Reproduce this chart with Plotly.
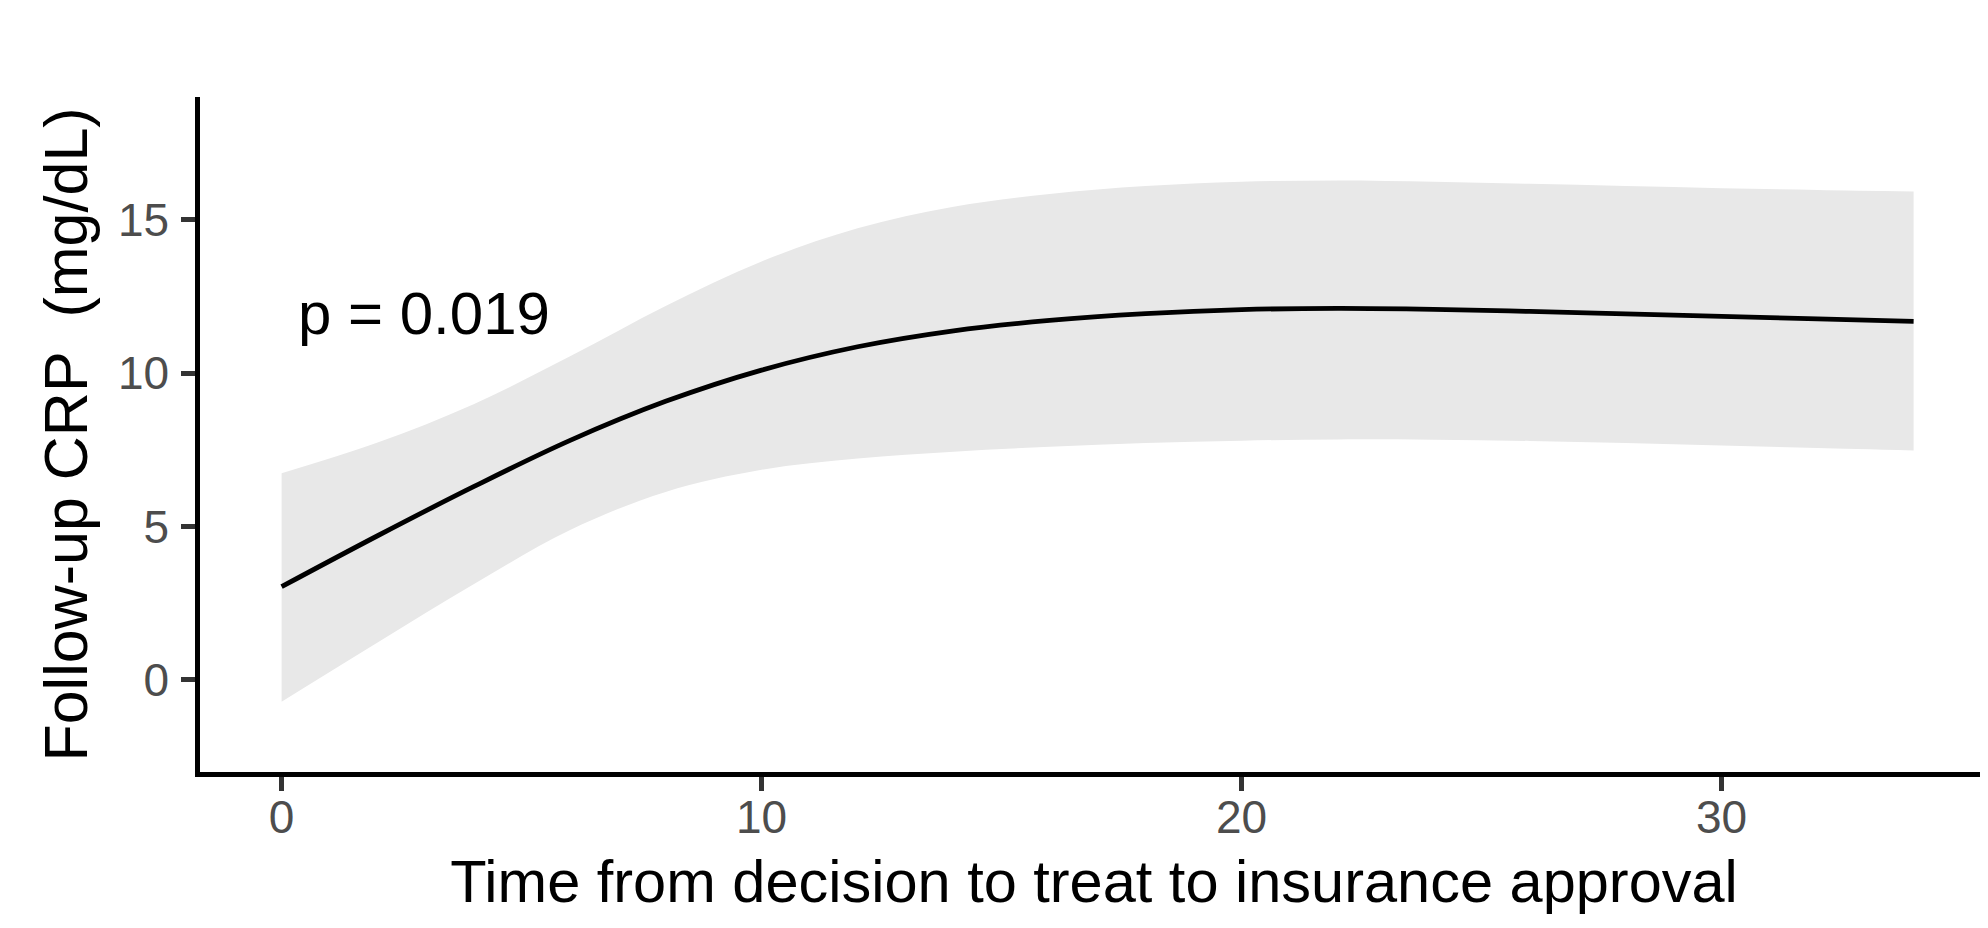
import plotly.graph_objects as go

# Values
time_x = [0, 2, 4, 6, 8, 10, 12, 14, 16, 18, 20, 22, 24, 26, 28, 30, 32, 34]
crp_fit = [3.04, 4.70, 6.30, 7.80, 9.08, 10.10, 10.86, 11.38, 11.72, 11.94,
           12.07, 12.11, 12.08, 12.01, 11.93, 11.85, 11.77, 11.69]
crp_upper = [6.74, 7.74, 8.99, 10.54, 12.19, 13.64, 14.72, 15.42, 15.84, 16.10,
             16.24, 16.28, 16.24, 16.17, 16.10, 16.03, 15.97, 15.92]
crp_lower = [-0.71, 1.22, 3.12, 4.88, 6.13, 6.85, 7.22, 7.44, 7.60, 7.72,
             7.80, 7.84, 7.83, 7.79, 7.72, 7.64, 7.56, 7.48]

x_ticks = [0, 10, 20, 30]
y_ticks = [0, 5, 10, 15]
p_label = "p = 0.019"
x_title = "Time from decision to treat to insurance approval"
y_title = "Follow-up CRP\u00a0 (mg/dL)"

FONT = "Liberation Sans, Arial, Helvetica, sans-serif"

fig = go.Figure()
fig.add_trace(go.Scatter(x=time_x, y=crp_lower, mode="lines",
                         line=dict(width=0, shape="spline"),
                         hoverinfo="skip", showlegend=False))
fig.add_trace(go.Scatter(x=time_x, y=crp_upper, mode="lines",
                         line=dict(width=0, shape="spline"),
                         fill="tonexty", fillcolor="#E8E8E8",
                         hoverinfo="skip", showlegend=False))
fig.add_trace(go.Scatter(x=time_x, y=crp_fit, mode="lines",
                         line=dict(color="black", width=4.8, shape="spline"),
                         showlegend=False))

fig.add_annotation(x=0.31, y=11.94, xref="x", yref="y", text=p_label,
                   showarrow=False, xanchor="left", yanchor="middle",
                   font=dict(family=FONT, size=60, color="black"))

axis_common = dict(
    showgrid=False, zeroline=False, showline=True, linecolor="black",
    linewidth=4.5, ticks="outside", ticklen=14, tickwidth=4.5,
    tickcolor="#333333",
    tickfont=dict(family=FONT, size=46, color="#4D4D4D"),
)

fig.update_xaxes(range=[-1.7, 35.55], tickvals=x_ticks,
                 ticklabelstandoff=-13,
                 title=dict(text=x_title, standoff=20,
                            font=dict(family=FONT, size=59.5, color="black")),
                 **axis_common)
fig.update_yaxes(range=[-3.0, 19.0], tickvals=y_ticks,
                 ticklabelstandoff=3,
                 title=dict(text=y_title, standoff=12,
                            font=dict(family=FONT, size=61, color="black")),
                 **axis_common)

fig.update_layout(
    width=1980, height=920,
    margin=dict(l=192, r=0, t=89, b=156, autoexpand=False),
    plot_bgcolor="white", paper_bgcolor="white",
    showlegend=False,
)

fig.write_html("out.html")
